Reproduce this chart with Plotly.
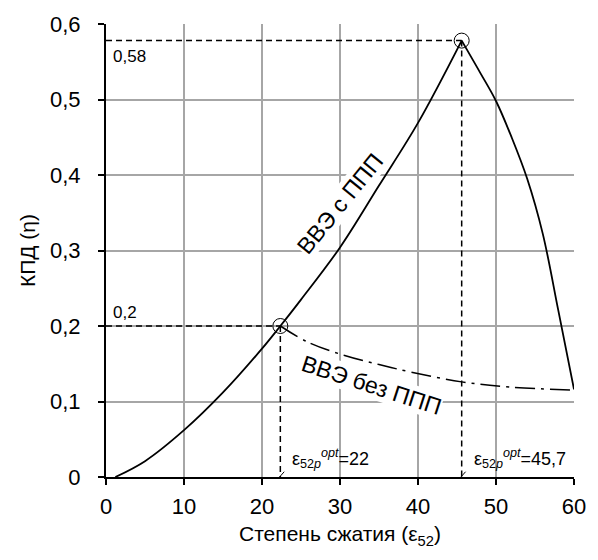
import plotly.graph_objects as go

# Data
eps_left = [1.2, 5, 10, 15, 20, 22.35, 25, 30, 35, 40, 45.6]
eta_left = [0.0, 0.021, 0.062, 0.112, 0.17, 0.2, 0.235, 0.304, 0.386, 0.469, 0.578]
eps_right = [45.6, 48, 50, 52, 54, 56, 58, 60]
eta_right = [0.578, 0.535, 0.498, 0.45, 0.395, 0.322, 0.22, 0.116]
eps_noppp = [22.35, 26, 30.6, 35, 39.1, 45.6, 52, 60]
eta_noppp = [0.2, 0.178, 0.161, 0.149, 0.139, 0.126, 0.119, 0.115]
opt_eps = [22.35, 45.6]
opt_eta = [0.2, 0.578]
opt_eta_labels = ["0,2", "0,58"]
opt_eps_labels = ["22", "45,7"]
x_ticks = [0, 10, 20, 30, 40, 50, 60]
y_ticks = [0, 0.1, 0.2, 0.3, 0.4, 0.5, 0.6]

FONT = "Liberation Sans, Arial, sans-serif"

fig = go.Figure()

for xs, ys in ((eps_left, eta_left), (eps_right, eta_right)):
    fig.add_trace(go.Scatter(x=xs, y=ys, mode="lines",
                             line=dict(color="black", width=1.8, shape="spline", smoothing=1.0),
                             showlegend=False, hoverinfo="skip"))
fig.add_trace(go.Scatter(x=eps_noppp, y=eta_noppp, mode="lines",
                         line=dict(color="black", width=1.5, dash="20px,6px,3px,6px",
                                   shape="spline", smoothing=1.0),
                         showlegend=False, hoverinfo="skip"))

# dashed guide lines
for xe, ye in zip(opt_eps, opt_eta):
    fig.add_trace(go.Scatter(x=[0, xe], y=[ye, ye], mode="lines",
                             line=dict(color="black", width=1.5, dash="6px,4px"),
                             showlegend=False, hoverinfo="skip"))
    fig.add_trace(go.Scatter(x=[xe, xe], y=[ye, 0], mode="lines",
                             line=dict(color="black", width=1.5, dash="6px,4px"),
                             showlegend=False, hoverinfo="skip"))
    # small slash at the axis
    fig.add_shape(type="line", xref="x", yref="y",
                  x0=xe - 0.7, y0=-0.007, x1=xe + 0.5, y1=0.007,
                  line=dict(color="black", width=1))

fig.add_trace(go.Scatter(x=opt_eps, y=opt_eta, mode="markers",
                         marker=dict(symbol="circle-open", size=15,
                                     color="black", line=dict(color="black", width=1)),
                         showlegend=False, hoverinfo="skip"))

# value labels
for ye, lab in zip(opt_eta, opt_eta_labels):
    fig.add_annotation(x=0.7, y=ye, text=lab, showarrow=False, xanchor="left",
                       yanchor="bottom" if ye < 0.5 else "top",
                       yshift=2 if ye < 0.5 else -4,
                       font=dict(family=FONT, size=17, color="black"))
for xe, lab in zip(opt_eps, opt_eps_labels):
    fig.add_annotation(x=xe, y=0.0, text="ε<sub>52<i>p</i></sub><sup><i>opt</i></sup>=" + lab,
                       showarrow=False, xanchor="left", yanchor="bottom",
                       xshift=10, yshift=4,
                       font=dict(family=FONT, size=18, color="black"))

# curve labels
fig.add_annotation(x=30.0, y=0.361, text="ВВЭ с ППП", showarrow=False, textangle=-51,
                   bgcolor="white", borderpad=0,
                   font=dict(family=FONT, size=23, color="black"))
fig.add_annotation(x=34.0, y=0.122, text="ВВЭ без ППП", showarrow=False, textangle=18,
                   bgcolor="white", borderpad=0,
                   font=dict(family=FONT, size=23, color="black"))

fig.update_layout(
    width=598, height=560,
    margin=dict(l=106, r=20, t=16, b=83),
    paper_bgcolor="white", plot_bgcolor="white",
    separators=", ",
    font=dict(family=FONT, size=22, color="black"),
    showlegend=False,
)
fig.update_xaxes(range=[0, 60], tickvals=x_ticks, showgrid=True, gridcolor="#a6a6a6",
                 gridwidth=1.5, showline=True, linecolor="black", linewidth=2,
                 ticks="outside", ticklen=6, tickwidth=2, tickcolor="black",
                 zeroline=False, tickfont=dict(family=FONT, size=22), ticklabelstandoff=3,
                 title=dict(text="Степень сжатия (ε<sub>52</sub>)", standoff=8,
                            font=dict(family=FONT, size=21)))
fig.update_yaxes(range=[0, 0.6], tickvals=y_ticks, showgrid=True, gridcolor="#a6a6a6",
                 gridwidth=1.5, showline=True, linecolor="black", linewidth=2,
                 ticks="outside", ticklen=6, tickwidth=2, tickcolor="black",
                 zeroline=False, tickfont=dict(family=FONT, size=22), ticklabelstandoff=13,
                 title=dict(text="КПД (η)", standoff=9, font=dict(family=FONT, size=21)))

fig.write_html("out.html")
